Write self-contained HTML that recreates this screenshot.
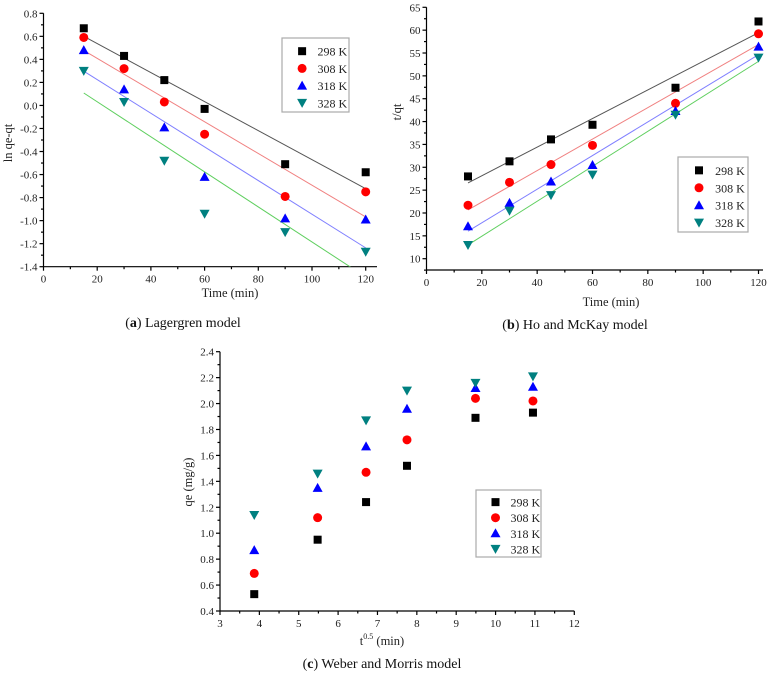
<!DOCTYPE html>
<html><head><meta charset="utf-8">
<style>
html,body{margin:0;padding:0;background:#fff;}
svg{display:block;font-family:"Liberation Serif",serif;}
</style></head>
<body>
<svg id="fig" width="778" height="673" viewBox="0 0 778 673" xmlns="http://www.w3.org/2000/svg"></svg>
<script>
const seriesNames = ["298 K","308 K","318 K","328 K"];
const timeX = [15,30,45,60,90,120];
const sqrtX = [3.87,5.48,6.71,7.75,9.49,10.95];
const lagA298 = [0.67,0.43,0.22,-0.03,-0.51,-0.58];
const lagA308 = [0.59,0.32,0.03,-0.25,-0.79,-0.75];
const lagA318 = [0.48,0.14,-0.19,-0.62,-0.98,-0.99];
const lagA328 = [0.30,0.03,-0.48,-0.94,-1.10,-1.27];
const hoB298 = [28.0,31.3,36.1,39.3,47.4,61.9];
const hoB308 = [21.7,26.7,30.6,34.8,44.0,59.2];
const hoB318 = [17.1,22.2,26.9,30.5,42.3,56.4];
const hoB328 = [13.0,20.5,23.9,28.4,41.5,54.0];
const wmC298 = [0.53,0.95,1.24,1.52,1.89,1.93];
const wmC308 = [0.69,1.12,1.47,1.72,2.04,2.02];
const wmC318 = [0.87,1.35,1.67,1.96,2.12,2.13];
const wmC328 = [1.14,1.46,1.87,2.10,2.16,2.21];
const ticksAY = [0.8,0.6,0.4,0.2,0.0,-0.2,-0.4,-0.6,-0.8,-1.0,-1.2,-1.4];
const ticksAX = [0,20,40,60,80,100,120];
const ticksBY = [10,15,20,25,30,35,40,45,50,55,60,65];
const ticksBX = [0,20,40,60,80,100,120];
const ticksCY = [0.4,0.6,0.8,1.0,1.2,1.4,1.6,1.8,2.0,2.2,2.4];
const ticksCX = [3,4,5,6,7,8,9,10,11,12];

const NS="http://www.w3.org/2000/svg";
const svg=document.getElementById('fig');
const markerColors=["#000","#f00","#00f","#008080"];
const lineColors=["#555","#f08080","#7f7fff","#5fcf5f"];
const markerKinds=["sq","ci","tu","td"];
function mk(tag,attrs,parent){const e=document.createElementNS(NS,tag);for(const k in attrs)e.setAttribute(k,attrs[k]);(parent||svg).appendChild(e);return e;}
function marker(g,kind,x,y,c){
  let e;
  if(kind==="sq") e=mk('rect',{x:x-4,y:y-4,width:8,height:8,fill:c},g);
  else if(kind==="ci") e=mk('circle',{cx:x,cy:y,r:4.5,fill:c},g);
  else if(kind==="tu") e=mk('polygon',{points:`${x},${y-5} ${x+5},${y+4} ${x-5},${y+4}`,fill:c},g);
  else e=mk('polygon',{points:`${x-5},${y-4} ${x+5},${y-4} ${x},${y+5}`,fill:c},g);
  return e;
}
function fit(xs,ys){const n=xs.length;const mx=xs.reduce((a,b)=>a+b)/n,my=ys.reduce((a,b)=>a+b)/n;let sxy=0,sxx=0;for(let i=0;i<n;i++){sxy+=(xs[i]-mx)*(ys[i]-my);sxx+=(xs[i]-mx)**2;}const s=sxy/sxx;return [s,my-s*mx];}
function chart(o){
  const g=mk('g',{});
  
  
  const sx=v=>o.x0+(v-o.vx0)*(o.x1-o.x0)/(o.vx1-o.vx0);
  const sy=v=>o.y0+(v-o.vy0)*(o.y1-o.y0)/(o.vy1-o.vy0);
  const clip='clip-'+o.name;
  const cp=mk('clipPath',{id:clip},g);
  mk('rect',{x:o.axL,y:o.axT,width:o.axR-o.axL,height:o.axB-o.axT},cp);
  // axes
  const ax=mk('g',{stroke:"#000","stroke-width":1.2},g);
  
  
  mk('line',{x1:o.axL,y1:o.axB,x2:o.axR,y2:o.axB},ax);
  mk('line',{x1:o.axL,y1:o.axB,x2:o.axL,y2:o.axT},ax);
  o.tx.forEach((t,i)=>{const x=sx(t);mk('line',{x1:x,y1:o.axB,x2:x,y2:o.axB+4},ax);
    if(i<o.tx.length-1 || o.minorEnd){const xm=sx(t+o.mx);if(xm<=o.axR+0.5)mk('line',{x1:xm,y1:o.axB,x2:xm,y2:o.axB+2.5},ax);}
    const tl=mk('text',{x:x,y:o.axB+16,"font-size":11,"text-anchor":"middle",fill:"#222",stroke:"none"},g);tl.textContent=t;
    
    });
  o.ty.forEach((t,i)=>{const y=sy(t);mk('line',{x1:o.axL-4,y1:y,x2:o.axL,y2:y},ax);
    const ym=sy(t+o.my);if(ym>=o.axT-0.5&&ym<=o.axB+0.5)mk('line',{x1:o.axL-2.5,y1:ym,x2:o.axL,y2:ym},ax);
    const tl=mk('text',{x:o.axL-6,y:y+4,"font-size":11,"text-anchor":"end",fill:"#222"},g);tl.textContent=o.fmt(t);
    
    });
  // fit lines
  if(o.lines){o.ys.forEach((ys,k)=>{const [s,b]=fit(o.xs,ys);const xa=o.xs[0],xb=o.xs[o.xs.length-1];
    const l=mk('line',{x1:sx(xa),y1:sy(s*xa+b),x2:sx(xb),y2:sy(s*xb+b),stroke:lineColors[k],"stroke-width":1,"clip-path":`url(#${clip})`},g);
    
    });}
  o.ys.forEach((ys,k)=>{const sg=mk('g',{},g);
    
    
    ys.forEach((v,i)=>{const m=marker(sg,markerKinds[k],sx(o.xs[i]),sy(v),markerColors[k]);
      
      });});
  // titles
  const xt=mk('text',{x:o.xtX,y:o.xtY,"font-size":12.5,"text-anchor":"middle",fill:"#222"},g);
  
  
  if(o.sup){xt.appendChild(document.createTextNode('t'));const ts=mk('tspan',{"font-size":8,dy:-6},xt);ts.textContent='0.5';const t2=mk('tspan',{dy:6},xt);t2.textContent=' (min)';}
  else xt.textContent=o.xtitle;
  const yt=mk('text',{x:o.ytX,y:o.ytY,"font-size":12.5,"text-anchor":"middle",fill:"#222",transform:`rotate(-90 ${o.ytX} ${o.ytY})`},g);
  yt.textContent=o.ytitle;
  
  
  // legend
  const L=o.leg;const lg=mk('g',{},g);
  
  
  mk('rect',{x:L[0],y:L[1],width:L[2]-L[0],height:L[3]-L[1],fill:"#fff",stroke:"#aaa","stroke-width":1.2},lg);
  const rh=(L[3]-L[1])/4.3;
  seriesNames.forEach((n,k)=>{const y=L[1]+rh*(k+0.65)+2;
    const e=mk('g',{},lg);
    
    
    marker(e,markerKinds[k],L[0]+(L[2]-L[0])*0.3,y,markerColors[k]);
    const t=mk('text',{x:L[0]+(L[2]-L[0])*0.53,y:y+4.5,"font-size":12,fill:"#222"},e);t.textContent=n;});
  const cap=mk('text',{x:o.capX,y:o.capY,"font-size":14,"text-anchor":"middle",fill:"#111"},g);
  
  
  cap.appendChild(document.createTextNode('('));const bb=mk('tspan',{"font-weight":"bold"},cap);bb.textContent=o.capL;cap.appendChild(document.createTextNode(') '+o.cap));
}
chart({name:'lagergren-chart',x0:43.5,x1:365.7,vx0:0,vx1:120,y0:13.3,y1:266.7,vy0:0.8,vy1:-1.4,
  axL:43.5,axR:377,axT:13.3,axB:266.7,tx:ticksAX,mx:10,ty:ticksAY,my:-0.1,fmt:v=>v.toFixed(1),
  xs:timeX,ys:[lagA298,lagA308,lagA318,lagA328],lines:true,xtitle:'Time (min)',xtX:230,xtY:297,
  ytitle:'ln qe-qt',ytX:12,ytY:143,leg:[282,38,349,112],capX:183,capY:327,capL:'a',cap:'Lagergren model'});
chart({name:'ho-mckay-chart',x0:426.5,x1:758.5,vx0:0,vx1:120,y0:7.3,y1:258.7,vy0:65,vy1:10,
  axL:426.5,axR:763,axT:7.3,axB:270,tx:ticksBX,mx:10,ty:ticksBY,my:-2.5,fmt:v=>v,
  xs:timeX,ys:[hoB298,hoB308,hoB318,hoB328],lines:true,xtitle:'Time (min)',xtX:611,xtY:306,
  ytitle:'t/qt',ytX:401,ytY:112,leg:[678,157,748,232],capX:575,capY:329,capL:'b',cap:'Ho and McKay model'});
chart({name:'weber-morris-chart',x0:220,x1:574.3,vx0:3,vx1:12,y0:351.7,y1:611,vy0:2.4,vy1:0.4,
  axL:220,axR:574.3,axT:351.7,axB:611,tx:ticksCX,mx:0.5,ty:ticksCY,my:-0.1,fmt:v=>v.toFixed(1),
  xs:sqrtX,ys:[wmC298,wmC308,wmC318,wmC328],lines:false,sup:true,xtX:382,xtY:645,
  ytitle:'qe (mg/g)',ytX:192,ytY:482,leg:[476,490,541,557],capX:382,capY:668,capL:'c',cap:'Weber and Morris model'});
</script>
</body></html>
